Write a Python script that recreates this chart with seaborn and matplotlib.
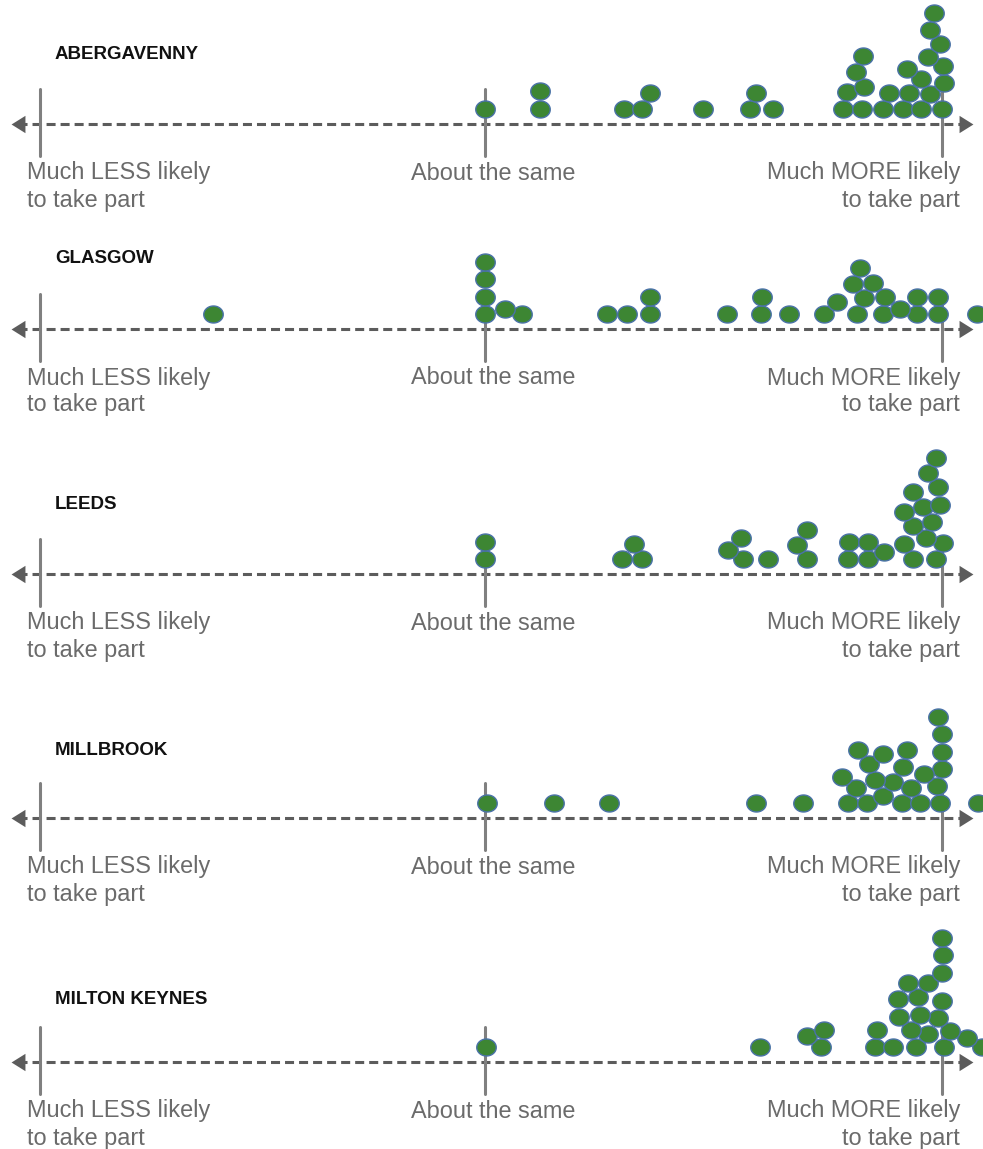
import numpy as np
import pandas as pd
import seaborn as sns
import matplotlib.pyplot as plt
from matplotlib.path import Path

# change in how likely people are to take part
# scale: 0 = about the same, 100 = much more likely (negative = less likely)
towns = ["ABERGAVENNY", "GLASGOW", "LEEDS", "MILLBROOK", "MILTON KEYNES"]

abergavenny = [0, 12.0, 30.4, 34.4, 47.7, 58.0, 63.0, 78.3, 82.5, 87.1, 91.5, 95.4, 100.0,
               36.1, 12.0, 59.3, 79.2, 82.9, 88.4, 92.8, 97.4, 100.4, 95.4, 92.3,
               81.2, 100.2, 96.9, 82.7, 99.6, 97.4, 98.2]
glasgow = [-59.5, 0, 8.1, 26.7, 31.1, 36.1, 53.0, 60.4, 66.5, 74.2, 81.4, 87.1, 94.5, 99.1, 107.7,
           4.4, 90.8, 0, 36.1, 60.6, 77.0, 82.9, 87.5, 94.5, 99.1, 0, 80.5, 84.9, 0, 82.1]
leeds = [0, 30.0, 34.4, 56.5, 61.9, 70.5, 79.4, 83.8, 87.3, 93.7, 98.7,
         0, 53.2, 32.6, 79.6, 68.3, 100.2, 91.7, 96.5, 83.8, 56.0, 70.5, 93.7, 97.8,
         91.7, 95.8, 99.6, 93.7, 99.1, 96.9, 98.7]
millbrook = [0.4, 15.1, 27.1, 59.3, 69.6, 79.4, 83.6, 87.1, 91.3, 95.2, 99.6, 107.9,
             81.2, 89.3, 85.3, 93.2, 98.9, 78.1, 100.0, 84.0, 96.1, 91.5, 87.1, 81.6,
             100.0, 92.3, 100.0, 99.1]
milton_keynes = [0.2, 60.2, 73.5, 85.3, 89.3, 94.3, 100.4, 108.8,
                 105.5, 70.5, 96.9, 93.2, 101.8, 74.2, 85.8, 99.1, 90.6, 95.2, 100.0,
                 90.4, 94.7, 96.9, 92.6, 100.0, 100.2, 100.0]
town_values = [abergavenny, glasgow, leeds, millbrook, milton_keynes]

scale_ticks = [-97.4, 0, 100]
scale_labels = [["Much LESS likely", "to take part"],
                ["About the same"],
                ["Much MORE likely", "to take part"]]

# layout (pixels)
W, H = 983, 1149
axis_rows = [124, 329, 574, 818, 1062]
title_lift = [65, 66, 65, 63, 58]
above, below = 140, 95
xmin, xmax = -106.1, 109.0
ppu = W / (xmax - xmin)          # pixels per scale unit
dot_w, dot_h = 19.5, 17.0
gap = 17.5                       # collision distance between dot centres
base = 15.0

sns.set_theme(style="white")
plt.rcParams["font.family"] = ["Liberation Sans", "DejaVu Sans"]
plt.rcParams["lines.scale_dashes"] = False

fill = "#3d8633"
edge = "#4a72a8"
axis_col = "#5c5c5c"
tick_col = "#808080"
text_col = "#6b6b6b"

t = np.linspace(0, 2 * np.pi, 60)
ellipse = Path(np.column_stack([np.cos(t), np.sin(t) * dot_h / dot_w]))
head_left = Path([(-0.4, 0), (0.4, 0.5), (0.4, -0.5), (-0.4, 0)])
head_right = Path([(0.4, 0), (-0.4, 0.5), (-0.4, -0.5), (0.4, 0)])


def px(x):
    return xmin + x / ppu


def stack(values):
    # one sided beeswarm: each dot drops to the lowest free spot
    placed = []
    for v in values:
        x = v * ppu
        cands = [base]
        for (qx, qy) in placed:
            dx = abs(x - qx)
            if dx < gap:
                cands.append(qy + np.sqrt(gap ** 2 - dx ** 2))
        y = base
        for c in sorted(cands):
            if all((x - qx) ** 2 + (c - qy) ** 2 >= gap ** 2 - 0.01 for (qx, qy) in placed):
                y = c
                break
        placed.append((x, y))
    return [p[1] for p in placed]


fig = plt.figure(figsize=(W / 100, H / 100), dpi=100)

for town, vals, row, lift in zip(towns, town_values, axis_rows, title_lift):
    ax = fig.add_axes([0, (H - row - below) / H, 1, (above + below) / H])
    ax.patch.set_alpha(0)

    df = pd.DataFrame({"score": vals, "height": stack(vals)})

    # dashed axis with arrow heads
    ax.plot([px(18), px(965)], [0, 0], color=axis_col, lw=2.2, dashes=(6.5, 3.6), zorder=1)
    ax.plot([px(18.5)], [0], marker=head_left, ms=12.5, color=axis_col, mew=0, zorder=1)
    ax.plot([px(965.5)], [0], marker=head_right, ms=12.5, color=axis_col, mew=0, zorder=1)
    for tk in scale_ticks:
        ax.plot([tk, tk], [35, -32], color=tick_col, lw=2.2, zorder=1.5)

    sns.scatterplot(data=df, x="score", y="height", ax=ax, marker=ellipse, s=(dot_w * 0.72) ** 2,
                    color=fill, edgecolor=edge, linewidth=1.0, zorder=3, legend=False)

    ax.text(px(55), lift, town, fontsize=13.5, fontweight="bold", color="#111111",
            ha="left", va="baseline")
    for (xp, ha), lines in zip([(27, "left"), (493, "center"), (960, "right")], scale_labels):
        for i, line in enumerate(lines):
            ax.text(px(xp), -55.5 - 27 * i, line, fontsize=16.9, color=text_col,
                    ha=ha, va="baseline")

    ax.set_xlim(xmin, xmax)
    ax.set_ylim(-below, above)
    ax.set_axis_off()

fig.savefig("out.png", dpi=100)
